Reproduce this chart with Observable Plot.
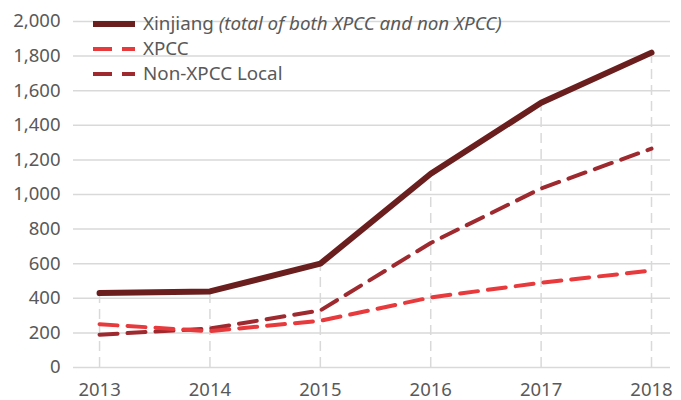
<!DOCTYPE html>
<html><head><meta charset="utf-8">
<script src="https://cdn.jsdelivr.net/npm/d3@7"></script>
<script src="https://cdn.jsdelivr.net/npm/@observablehq/plot@0.6"></script>
<style>
body{margin:0;background:#fff;font-family:"Source Sans Pro","Noto Sans",sans-serif;}
#wrap{position:relative;width:681px;height:400px;}
#legend{position:absolute;left:93px;top:11px;font-size:18.8px;color:#595959;line-height:25px;}
#legend .row{display:flex;align-items:center;height:25px;}
#legend svg{margin-right:8px;}
</style></head><body>
<div id="wrap"><div id="legend"></div></div>
<script>
const years = [2013, 2014, 2015, 2016, 2017, 2018];
const xinjiang = [430, 440, 600, 1120, 1530, 1820];
const xpcc = [250, 210, 270, 405, 490, 560];
const nonXpcc = [190, 225, 330, 720, 1035, 1265];
const yTicks = [0, 200, 400, 600, 800, 1000, 1200, 1400, 1600, 1800, 2000];
const seriesNames = ["Xinjiang", "XPCC", "Non-XPCC Local"];

const colors = {"Xinjiang": "#6a1e1e", "XPCC": "#e8393c", "Non-XPCC Local": "#9e2a2f"};
const rows = (vals, name) => years.map((y, i) => ({year: y, value: vals[i], series: name}));
const dXJ = rows(xinjiang, "Xinjiang");
const dXP = rows(xpcc, "XPCC");
const dNX = rows(nonXpcc, "Non-XPCC Local");

const chart = Plot.plot({
  width: 681, height: 400,
  marginLeft: 73, marginRight: 11, marginTop: 21, marginBottom: 33,
  style: {fontFamily: "'Source Sans Pro','Noto Sans',sans-serif", fontSize: "18.5px", color: "#595959", background: "#fff"},
  x: {domain: [2012.764, 2018.172], ticks: years, tickFormat: d => String(d), tickSize: 0, tickPadding: 15, label: null},
  y: {domain: [0, 2000], ticks: yTicks, tickFormat: d3.format(","), tickSize: 0, tickPadding: 13, label: null},
  marks: [
    Plot.ruleY(yTicks, {stroke: "#d9d9d9", strokeWidth: 1.5}),
    Plot.ruleX(dXJ, {x: "year", y1: 0, y2: "value", stroke: "#d9d9d9", strokeWidth: 1.5, strokeDasharray: "10 6"}),
    Plot.line(dNX, {x: "year", y: "value", stroke: colors["Non-XPCC Local"], strokeWidth: 4, strokeDasharray: "18 10"}),
    Plot.line(dXP, {x: "year", y: "value", stroke: colors["XPCC"], strokeWidth: 4, strokeDasharray: "18 10"}),
    Plot.line(dXJ, {x: "year", y: "value", stroke: colors["Xinjiang"], strokeWidth: 6})
  ]
});
document.getElementById("wrap").prepend(chart);
chart.style.position = "absolute"; chart.style.left = "0"; chart.style.top = "0";

const legend = document.getElementById("legend");
const labels = {
  "Xinjiang": 'Xinjiang <i>(total of both XPCC and non XPCC)</i>',
  "XPCC": "XPCC",
  "Non-XPCC Local": "Non-XPCC Local"
};
seriesNames.forEach(n => {
  const row = document.createElement("div"); row.className = "row";
  const dash = n === "Xinjiang" ? "" : 'stroke-dasharray="19 10"';
  const w = n === "Xinjiang" ? 6 : 4;
  row.innerHTML = `<svg width="42" height="10"><line x1="0" y1="5" x2="42" y2="5" stroke="${colors[n]}" stroke-width="${w}" ${dash}/></svg><span>${labels[n]}</span>`;
  legend.appendChild(row);
});
</script>
</body></html>
